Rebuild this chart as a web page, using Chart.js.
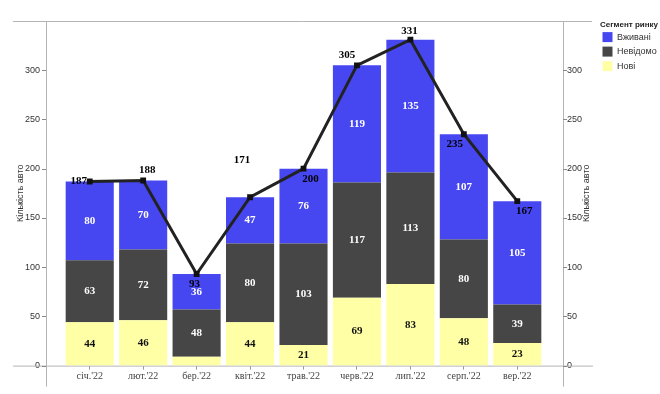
<!DOCTYPE html>
<html><head><meta charset="utf-8">
<script src="https://cdn.jsdelivr.net/npm/chart.js@4.4.1/dist/chart.umd.min.js"></script>
<style>html,body{margin:0;padding:0;background:#fff}#wrap{width:660px;height:394px}</style>
</head><body><div id="wrap"><canvas id="c" width="660" height="394"></canvas></div>
<script>
const months = ["січ.'22","лют.'22","бер.'22","квіт.'22","трав.'22","черв.'22","лип.'22","серп.'22","вер.'22"];
const novi = [44,46,9,44,21,69,83,48,23];
const nevidomo = [63,72,48,80,103,117,113,80,39];
const vzhyvani = [80,70,36,47,76,119,135,107,105];
const totals = [187,188,93,171,200,305,331,235,167];
const yTicks = [0,50,100,150,200,250,300];
// label placement of the total labels (style, relative to the point)
const totalLabelOffsets = [[-11,0],[4,-10],[-2,10],[-8,-37],[7,10],[-10,-10],[-1,-9],[-9,10],[7,10]];

const frame = {
  id:'frame',
  beforeDatasetsDraw(chart){
    const {ctx, chartArea:a, scales} = chart;
    const L = a.left-17, R = a.right+19;
    ctx.save();
    ctx.strokeStyle='#b4b4b4'; ctx.lineWidth=1;
    ctx.beginPath();
    ctx.moveTo(a.left-50, a.top+0.5); ctx.lineTo(R+29, a.top+0.5);
    ctx.moveTo(a.left-50, a.bottom+0.5); ctx.lineTo(R+30, a.bottom+0.5);
    ctx.moveTo(L+0.5, a.top); ctx.lineTo(L+0.5, a.bottom+21);
    ctx.moveTo(R+0.5, a.top); ctx.lineTo(R+0.5, a.bottom+21);
    ctx.stroke();
    ctx.strokeStyle='#888';
    ctx.beginPath();
    yTicks.forEach(v=>{const y=Math.round(scales.y.getPixelForValue(v))+0.5; ctx.moveTo(L-4,y);ctx.lineTo(L,y); ctx.moveTo(R,y); ctx.lineTo(R+4,y);});
    ctx.stroke();
    ctx.translate(a.right+43, (a.top+a.bottom)/2);
    ctx.rotate(-Math.PI/2);
    ctx.font='9px "Liberation Sans", Arial, sans-serif'; ctx.fillStyle='#333'; ctx.textAlign='center'; ctx.textBaseline='middle';
    ctx.fillText('Кількість авто',0,0);
    ctx.restore();
  }
};

const vals = {
  id:'vals',
  afterDatasetsDraw(chart){
    const ctx=chart.ctx; ctx.save();
    ctx.font='bold 11px "Liberation Serif", "Times New Roman", serif'; ctx.textAlign='center'; ctx.textBaseline='middle';
    [0,1,2].forEach(di=>{
      const meta=chart.getDatasetMeta(di);
      meta.data.forEach((bar,i)=>{
        const h=Math.abs(bar.base-bar.y); if(h<14) return;
        ctx.fillStyle = di===0?'#111':'#fff';
        ctx.fillText(String(chart.data.datasets[di].data[i]), bar.x, (bar.y+bar.base)/2);
      });
    });
    const lm=chart.getDatasetMeta(3);
    ctx.fillStyle='#000';
    lm.data.forEach((p,i)=>{ const o=totalLabelOffsets[i]; ctx.fillText(String(totals[i]), p.x+o[0], p.y+o[1]); });
    ctx.restore();
  }
};

const keepTicks = s => { s.ticks = s.ticks.filter(t => yTicks.includes(t.value)); };

new Chart(document.getElementById('c'), {
  data:{
    labels: months,
    datasets:[
      {type:'bar', label:'Нові', data:novi, backgroundColor:'#ffffa6', borderWidth:0, order:1, yAxisID:'y'},
      {type:'bar', label:'Невідомо', data:nevidomo, backgroundColor:'#464646', borderWidth:0, order:1, yAxisID:'y'},
      {type:'bar', label:'Вживані', data:vzhyvani, backgroundColor:'#4747f2', borderWidth:0, order:1, yAxisID:'y'},
      {type:'line', label:'Разом', data:totals, borderColor:'#222', borderWidth:3, pointStyle:'rect', pointRadius:2, pointBackgroundColor:'#111', pointBorderColor:'#111', order:0, yAxisID:'y2', tension:0}
    ]
  },
  options:{
    responsive:false, animation:false,
    layout:{padding:{top:21,right:0,bottom:0,left:0}},
    datasets:{bar:{barPercentage:0.9, categoryPercentage:1}},
    scales:{
      x:{stacked:true, offset:true,
        grid:{display:true, drawOnChartArea:false, drawTicks:true, tickLength:4, offset:false, color:'#999'},
        border:{display:false},
        ticks:{font:{family:'"Liberation Serif", "Times New Roman", serif', size:10}, color:'#444', padding:1, maxRotation:0, autoSkip:false},
        afterFit(s){ s.height = 28; }
      },
      y:{stacked:true, min:0, max:350, position:'left',
        grid:{display:false, drawTicks:false}, border:{display:false},
        ticks:{stepSize:50, padding:23, font:{family:'"Liberation Sans", Arial, sans-serif', size:9}, color:'#333'},
        title:{display:true, text:'Кількість авто', font:{family:'"Liberation Sans", Arial, sans-serif', size:9}, color:'#333', padding:{top:15,bottom:0}},
        afterBuildTicks: keepTicks,
        afterFit(s){ s.width = 63; s.paddingTop = 0; }
      },
      y2:{stacked:false, min:0, max:350, position:'right',
        grid:{display:false, drawTicks:false}, border:{display:false},
        ticks:{stepSize:50, padding:23, font:{family:'"Liberation Sans", Arial, sans-serif', size:9}, color:'#333'},
        afterBuildTicks: keepTicks,
        afterFit(s){ s.width = 54; s.paddingTop = 0; }
      }
    },
    plugins:{
      tooltip:{enabled:false},
      legend:{position:'right', align:'start', reverse:true, maxWidth:62,
        title:{display:true, text:'Сегмент ринку', font:{family:'"Liberation Sans", Arial, sans-serif', size:8, weight:'bold'}, color:'#222', padding:{top:0,bottom:-3}},
        labels:{boxWidth:10, boxHeight:10, padding:4.5, font:{family:'"Liberation Sans", Arial, sans-serif', size:9}, color:'#333',
          filter:(item)=>item.datasetIndex<3}
      }
    }
  },
  plugins:[frame, vals]
});
</script></body></html>
